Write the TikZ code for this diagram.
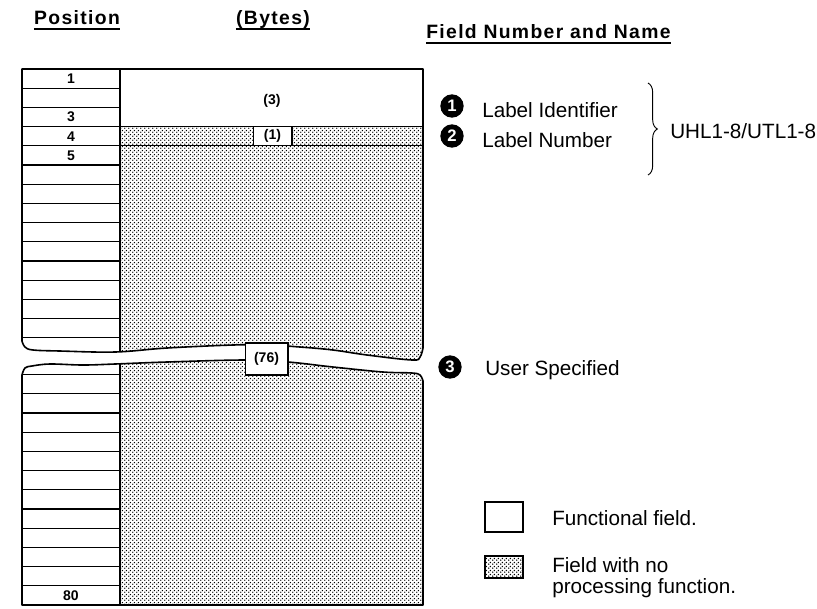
\documentclass[tikz,border=0pt]{standalone}
\usepackage{fontspec}
\setmainfont{Liberation Sans}
\newfontfamily\headfont[LetterSpace=7]{Liberation Sans}
\usetikzlibrary{patterns,calc,positioning,decorations.pathreplacing}

\pgfdeclarepatternformonly{bytedots}{\pgfqpoint{0pt}{0pt}}{\pgfqpoint{3pt}{3pt}}{\pgfqpoint{3pt}{3pt}}{%
  \pgfpathcircle{\pgfqpoint{0.75pt}{0.75pt}}{0.68pt}%
  \pgfpathcircle{\pgfqpoint{2.25pt}{2.25pt}}{0.68pt}%
  \pgfusepath{fill}%
}

\tikzset{
  header/.style={font=\headfont\bfseries\fontsize{14.5}{17}\selectfont, inner sep=0pt, anchor=base},
  poslabel/.style={font=\bfseries\fontsize{10.5}{12}\selectfont, inner sep=0pt},
  bytebox/.style={draw, fill=white, line width=1pt, inner sep=0pt, font=\bfseries\fontsize{10.5}{12}\selectfont},
  numdot/.style={circle, fill=black, text=white, inner sep=0pt, minimum size=17.5pt, font=\bfseries\fontsize{12.5}{14}\selectfont},
  fieldtext/.style={font=\fontsize{15.5}{19}\selectfont, inner sep=0pt, anchor=base west},
  keybox/.style={draw, line width=0.9pt, inner sep=0pt, minimum width=28.5pt},
  frame/.style={line width=1.2pt, line join=round},
  rowline/.style={line width=0.9pt},
  dotfill/.style={pattern=bytedots},
}

\def\upperpiece{(22,69) -- (423,69) -- plot[smooth, tension=0.6] coordinates {(423,348) (420,357) (412,360) (367,355) (333,350) (300,347) (267,345) (233,345) (167,348) (115,352) (60,351) (33,350) (25,347) (22,341)} -- cycle}
\def\lowerpiece{plot[smooth, tension=0.6] coordinates {(22,375) (25,368) (32,366) (50,364) (83,365) (115,364) (167,362) (245,360) (288,362) (333,367) (383,372) (412,373) (420,375) (423,381)} -- (423,605) -- (22,605) -- cycle}

\begin{document}
\begin{tikzpicture}[x=0.75pt, y=-0.75pt]
  \useasboundingbox (0,0) rectangle (817,608);

  \node[header] (hpos) at (77,24) {Position};
  \node[header] (hbytes) at (273,24) {(Bytes)};
  \node[header, anchor=base west] (hfield) at (426,38) {Field Number and Name};
  \foreach \h in {hpos,hbytes,hfield}
    \draw[line width=1.3pt] ($(\h.base west)+(0,5)$) -- ($(\h.base east)+(0,5)$);

  % upper part of the record
  \begin{scope}
    \clip \upperpiece;
    \path[dotfill] (120,126.6) rectangle (423,400);
    \foreach \k in {1,...,14}
      \draw[rowline] (22,{69+19.2*\k}) -- (120,{69+19.2*\k});
    \draw[rowline] (120,69) -- (120,400);
    \draw[rowline] (120,126.6) -- (423,126.6);
    \draw[rowline] (120,145.8) -- (423,145.8);
  \end{scope}
  \draw[frame] \upperpiece;

  % lower part of the record
  \begin{scope}
    \clip \lowerpiece;
    \path[dotfill] (120,340) rectangle (423,605);
    \foreach \k in {1,...,12}
      \draw[rowline] (22,{605-19.2*\k}) -- (120,{605-19.2*\k});
    \draw[rowline] (120,340) -- (120,605);
  \end{scope}
  \draw[frame] \lowerpiece;

  \foreach \p/\y in {1/78.6, 3/117, 4/136.2, 5/155.4, 80/595.4}
    \node[poslabel] (p\p) at (71,\y) {\p};

  \node[poslabel] (b3) at (272,101) {(3)};
  \node[bytebox, minimum width=29pt, minimum height=14.4pt] (b1) at (272.5,136.2) {(1)};
  \node[bytebox, minimum width=32pt, minimum height=24pt] (b76) at (266.5,359) {(76)};

  % field numbers and names
  \node[numdot] (n1) at (452,106) {1};
  \node[numdot] (n2) at (452,136) {2};
  \node[numdot] (n3) at (450,367) {3};
  \node[fieldtext] (f1) at (482,117) {Label Identifier};
  \node[fieldtext] (f2) at (482,147) {Label Number};
  \node[fieldtext] (f3) at (485,375) {User Specified};

  \coordinate (bt) at (648,83);
  \coordinate (bb) at (648,175);
  \draw[decorate, decoration={brace, amplitude=7pt}, line width=0.7pt] (bt) -- (bb);
  \node[fieldtext] (uhl) at (670,138) {UHL1-8/UTL1-8};

  % key
  \node[keybox, minimum height=22.5pt] (kfun) at (504,517) {};
  \node[keybox, dotfill, minimum height=16.5pt] (kdot) at (504,567) {};
  \node[fieldtext] (tfun) at (552,525) {Functional field.};
  \node[fieldtext] (tdot) at (552,572) {Field with no};
  \node[fieldtext] (tdot2) at ($(tdot.base west)+(0,21)$) {processing function.};
\end{tikzpicture}
\end{document}
